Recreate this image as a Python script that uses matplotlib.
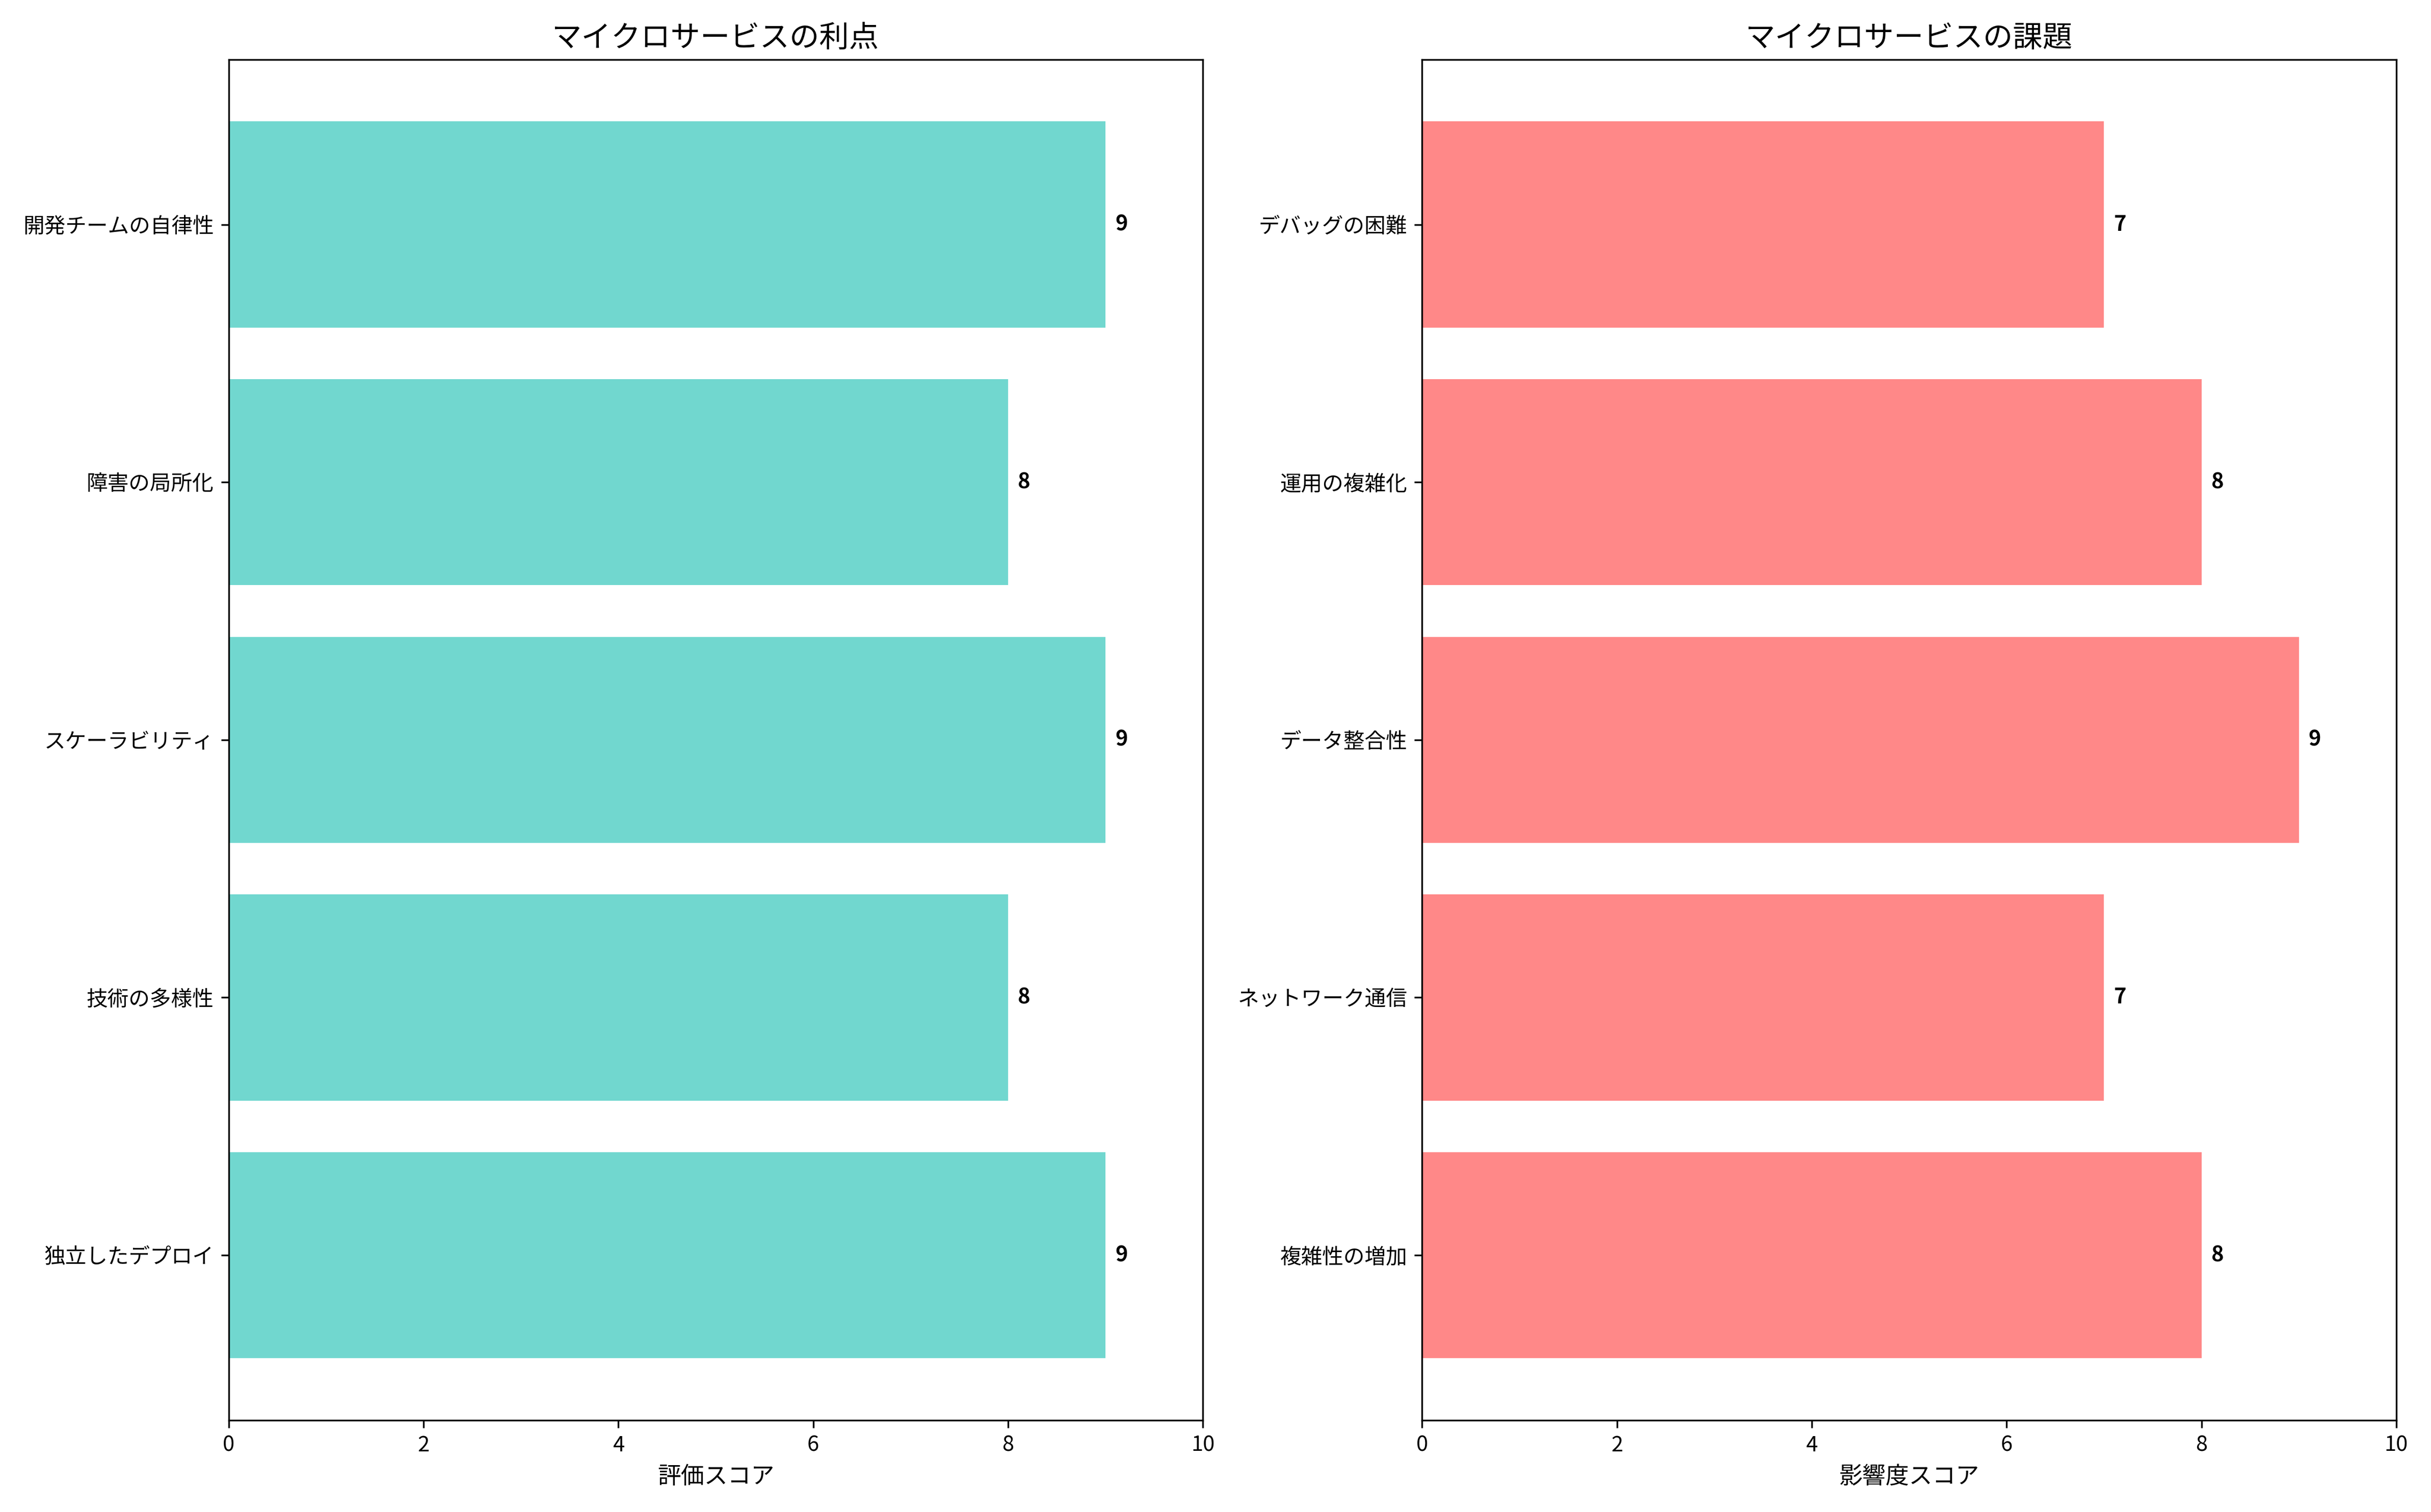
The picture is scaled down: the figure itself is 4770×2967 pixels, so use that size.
import matplotlib.pyplot as plt

plt.rcParams["font.family"] = "Noto Sans CJK JP"

# データ
benefit_labels = ["独立したデプロイ", "技術の多様性", "スケーラビリティ", "障害の局所化", "開発チームの自律性"]
benefit_scores = [9, 8, 9, 8, 9]
challenge_labels = ["複雑性の増加", "ネットワーク通信", "データ整合性", "運用の複雑化", "デバッグの困難"]
challenge_scores = [8, 7, 9, 8, 7]

fig, (ax1, ax2) = plt.subplots(1, 2, figsize=(15.9, 9.89), dpi=300)

def draw(ax, labels, scores, color, title, xlabel):
    bars = ax.barh(labels, scores, color=color, alpha=0.8)
    ax.set_xlim(0, 10)
    ax.set_title(title, fontsize=14)
    ax.set_xlabel(xlabel, fontsize=11)
    for bar, s in zip(bars, scores):
        ax.text(bar.get_width() + 0.1, bar.get_y() + bar.get_height() / 2, str(s),
                va="center", fontweight="bold")

draw(ax1, benefit_labels, benefit_scores, "#4ECDC4", "マイクロサービスの利点", "評価スコア")
draw(ax2, challenge_labels, challenge_scores, "#FF6B6B", "マイクロサービスの課題", "影響度スコア")

plt.tight_layout()
plt.savefig("out.png")
